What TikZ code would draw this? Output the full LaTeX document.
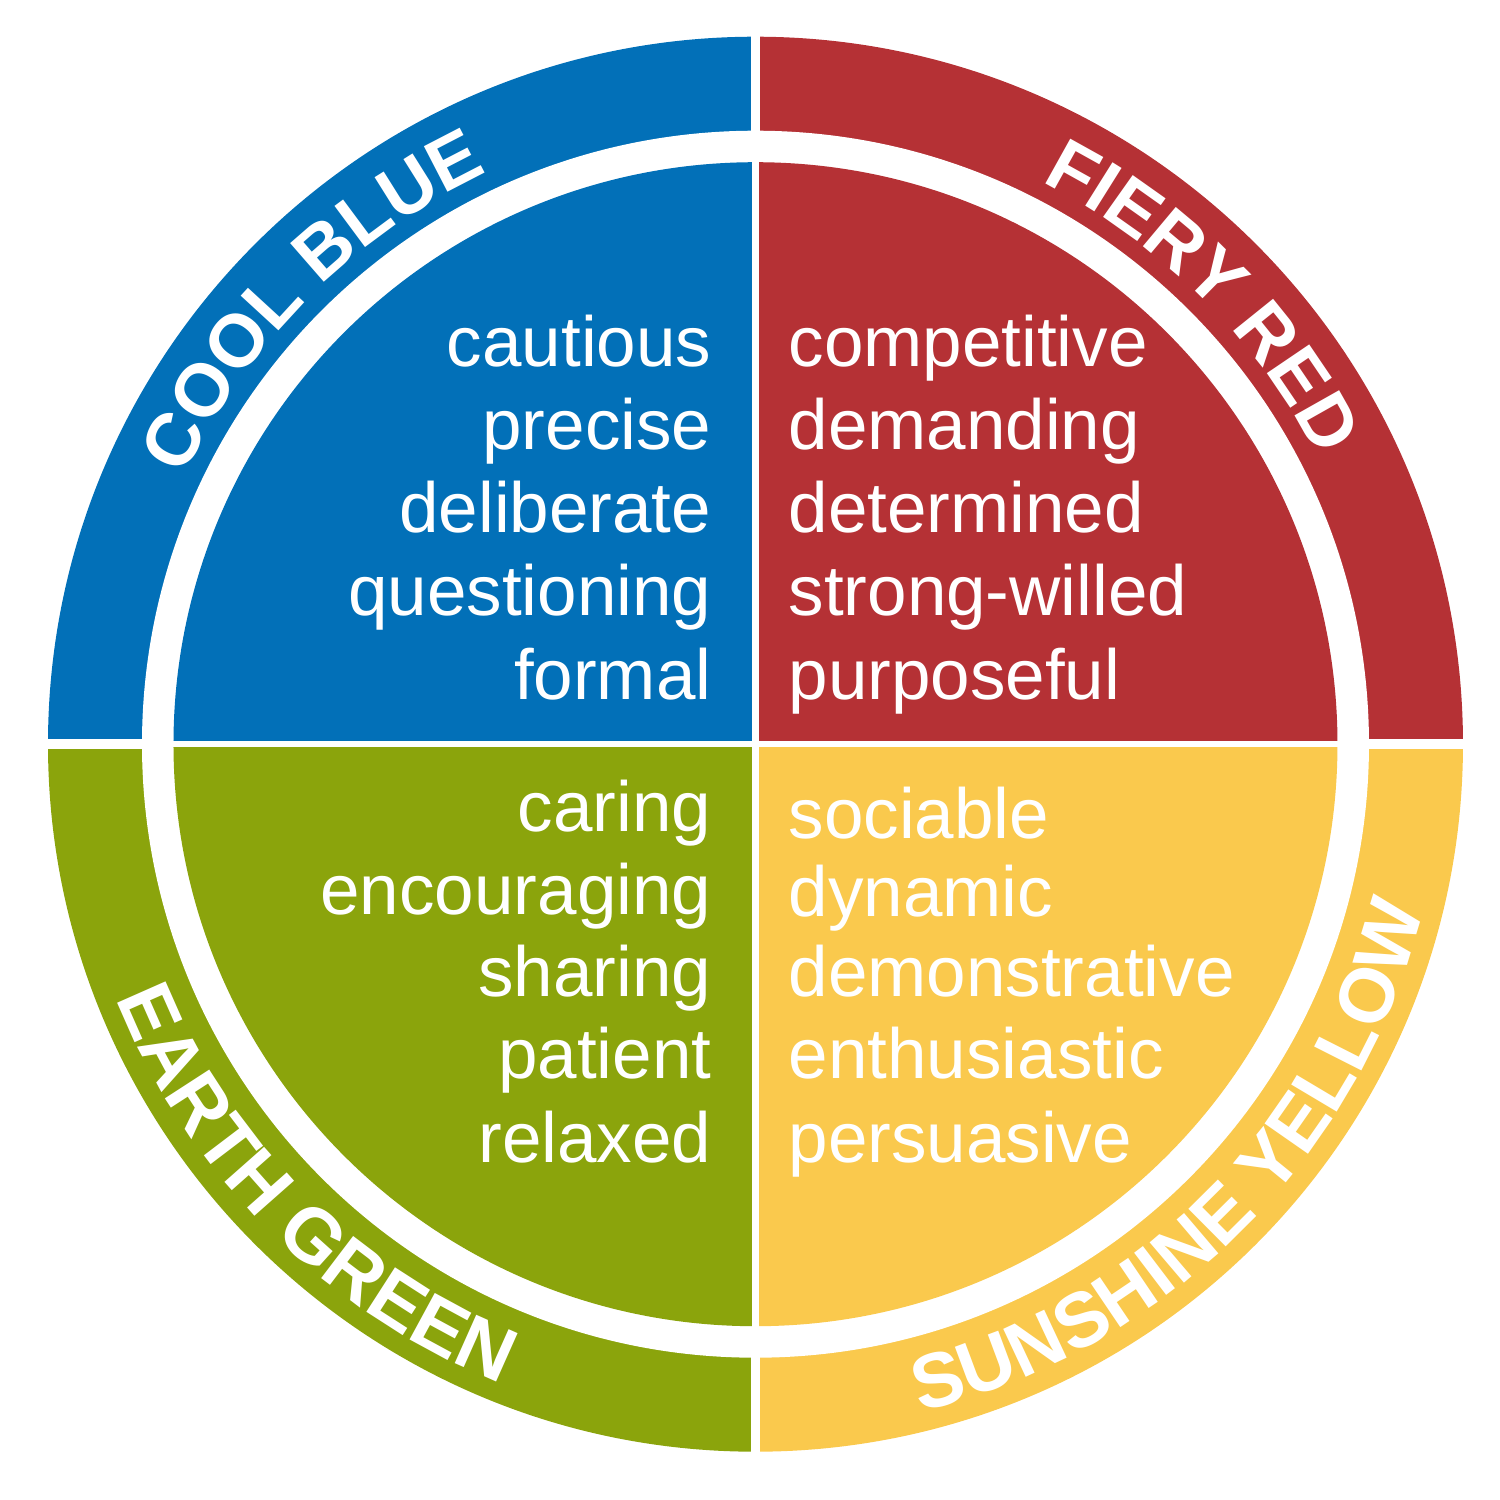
\documentclass[tikz,border=0pt]{standalone}
\usepackage{fontspec}
\setmainfont{Liberation Sans}
\usetikzlibrary{decorations.text}
\definecolor{cblue}{RGB}{2,112,184}
\definecolor{cred}{RGB}{181,49,53}
\definecolor{cgreen}{RGB}{139,164,12}
\definecolor{cyellow}{RGB}{250,201,77}
\newcommand{\wordsize}{\fontsize{20.2pt}{24pt}\selectfont}
\newcommand{\ringtop}{\fontsize{21.2pt}{25pt}\selectfont\bfseries}
\newcommand{\ringbot}{\fontsize{21.9pt}{26pt}\selectfont\bfseries}
\tikzset{
  wordR/.style={text=white, inner sep=0pt, anchor=base east, font=\wordsize},
  wordL/.style={text=white, inner sep=0pt, anchor=base west, font=\wordsize},
  ringlabel/.style={decorate, decoration={text along path, text align=center, text color=white}}
}
\begin{document}
\begin{tikzpicture}
\useasboundingbox (-7.555,-7.558) rectangle (7.445,7.442);
\def\Ro{7.075}
\def\Ri{6.135}
\def\Rd{5.82}
% outer ring sectors
\fill[cblue] (0,0) -- (90:\Ro) arc[start angle=90,end angle=180,radius=\Ro] -- cycle;
\fill[cred] (0,0) -- (0:\Ro) arc[start angle=0,end angle=90,radius=\Ro] -- cycle;
\fill[cgreen] (0,0) -- (180:\Ro) arc[start angle=180,end angle=270,radius=\Ro] -- cycle;
\fill[cyellow] (0,0) -- (270:\Ro) arc[start angle=270,end angle=360,radius=\Ro] -- cycle;
\fill[white] (0,0) circle (\Ri);
% inner disc quadrants
\fill[cblue] (0,0) -- (90:\Rd) arc[start angle=90,end angle=180,radius=\Rd] -- cycle;
\fill[cred] (0,0) -- (0:\Rd) arc[start angle=0,end angle=90,radius=\Rd] -- cycle;
\fill[cgreen] (0,0) -- (180:\Rd) arc[start angle=180,end angle=270,radius=\Rd] -- cycle;
\fill[cyellow] (0,0) -- (270:\Rd) arc[start angle=270,end angle=360,radius=\Rd] -- cycle;
% white separators
\draw[white, line width=0.095cm] (0,5.9) -- (0,7.3) (0,-5.9) -- (0,-7.3) (-5.9,0) -- (-7.3,0) (5.9,0) -- (7.3,0);
\draw[white, line width=0.065cm] (0,-6) -- (0,6) (-6,0) -- (6,0);
% ring labels
\path[ringlabel, decoration={text={|\ringtop|COOL BLUE}}] (180:6.31) arc[start angle=180,end angle=90,radius=6.31];
\path[ringlabel, decoration={text={|\ringtop|FIERY RED}}] (90:6.31) arc[start angle=90,end angle=0,radius=6.31];
\path[ringlabel, decoration={text={|\ringbot|EARTH GREEN}}] (180:6.88) arc[start angle=180,end angle=270,radius=6.88];
\path[ringlabel, decoration={text={|\ringbot|SUNSHINE YELLOW}}] (270:6.88) arc[start angle=270,end angle=360,radius=6.88];
% blue words
\node[wordR] (b1) at (-0.435,3.782) {cautious};
\node[wordR] (b2) at (-0.435,2.952) {precise};
\node[wordR] (b3) at (-0.435,2.122) {deliberate};
\node[wordR] (b4) at (-0.435,1.292) {questioning};
\node[wordR] (b5) at (-0.435,0.452) {formal};
% red words
\node[wordL] (r1) at (0.325,3.782) {competitive};
\node[wordL] (r2) at (0.325,2.952) {demanding};
\node[wordL] (r3) at (0.325,2.122) {determined};
\node[wordL] (r4) at (0.325,1.292) {strong-willed};
\node[wordL] (r5) at (0.325,0.452) {purposeful};
% green words
\node[wordR] (g1) at (-0.435,-0.868) {caring};
\node[wordR] (g2) at (-0.435,-1.698) {encouraging};
\node[wordR] (g3) at (-0.435,-2.518) {sharing};
\node[wordR] (g4) at (-0.435,-3.338) {patient};
\node[wordR] (g5) at (-0.435,-4.178) {relaxed};
% yellow words
\node[wordL] (y1) at (0.325,-0.941) {sociable};
\node[wordL] (y2) at (0.325,-1.718) {dynamic};
\node[wordL] (y3) at (0.325,-2.518) {demonstrative};
\node[wordL] (y4) at (0.325,-3.338) {enthusiastic};
\node[wordL] (y5) at (0.325,-4.178) {persuasive};
\end{tikzpicture}
\end{document}
